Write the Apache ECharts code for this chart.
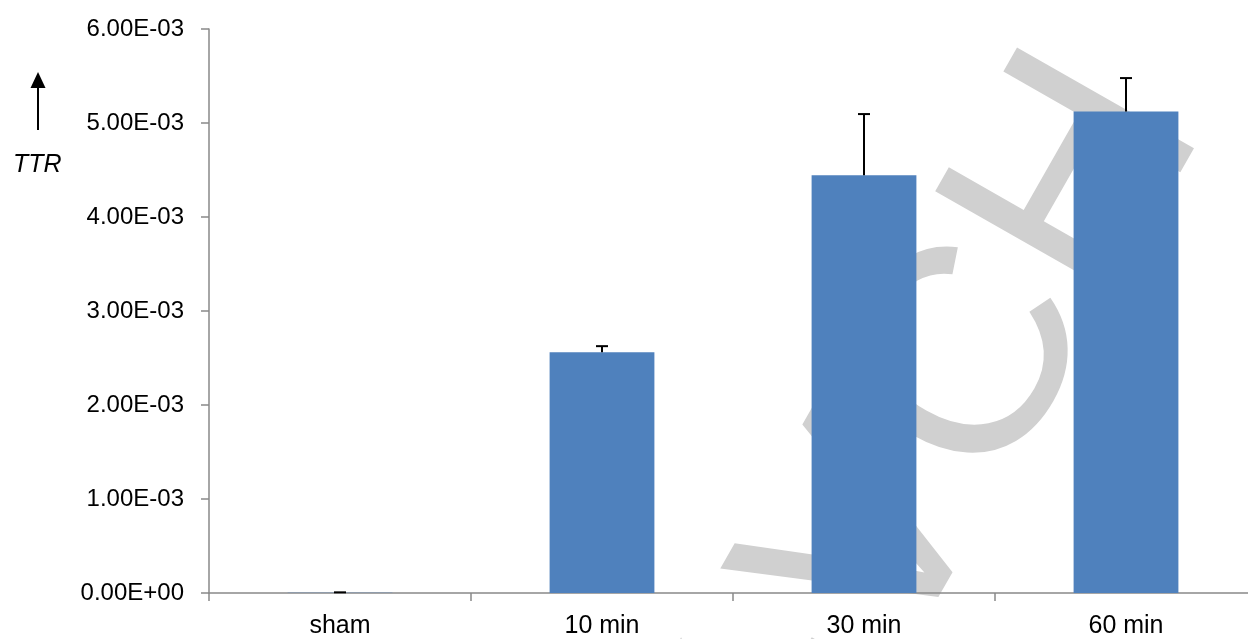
<!DOCTYPE html>
<html>
<head>
<meta charset="utf-8">
<script src="https://cdn.jsdelivr.net/npm/echarts@6/dist/echarts.min.js"></script>
<style>
  html, body { margin: 0; padding: 0; background: #ffffff; overflow: hidden; }
  /* the plot area runs a few pixels past the right edge of the window */
  #chart { width: 1262px; height: 639px; }
</style>
</head>
<body>
<div id="chart"></div>
<script>
// Sampling times after the start of the experiment
const categories = ['sham', '10 min', '30 min', '60 min'];
// Mean TTR per group
const ttrMean = [0.000002, 0.002562, 0.004445, 0.005122];
// Upper error (standard deviation) per group
const ttrError = [0.000005, 0.000064, 0.000650, 0.000356];
// Value-axis ticks
const yMin = 0;
const yMax = 0.006;
const yStep = 0.001;

const FONT = '"Liberation Sans", Arial, sans-serif';
const AXIS_GRAY = '#898989';

function sciLabel(v) {
  // Excel-style scientific notation, e.g. 6.00E-03
  if (v === 0) return '0.00E+00';
  const exp = Math.floor(Math.log10(Math.abs(v)) + 1e-9);
  const mant = v / Math.pow(10, exp);
  const sign = exp < 0 ? '-' : '+';
  const e = String(Math.abs(exp)).padStart(2, '0');
  return mant.toFixed(2) + 'E' + sign + e;
}

const errorData = categories.map((c, i) => [i, ttrMean[i], ttrMean[i] + ttrError[i]]);

const chart = echarts.init(document.getElementById('chart'), null, { renderer: 'canvas' });

chart.setOption({
  backgroundColor: '#ffffff',
  animation: false,
  grid: { left: 209, top: 29, width: 1048, height: 564, containLabel: false },
  xAxis: {
    type: 'category',
    data: categories,
    axisLine: { show: true, lineStyle: { color: AXIS_GRAY, width: 1.5 } },
    axisTick: { show: true, alignWithLabel: false, length: 8, lineStyle: { color: AXIS_GRAY, width: 1.5 } },
    axisLabel: { color: '#000000', fontSize: 25, fontFamily: FONT, margin: 21 },
    splitLine: { show: false }
  },
  yAxis: {
    type: 'value',
    min: yMin,
    max: yMax,
    interval: yStep,
    axisLine: { show: true, lineStyle: { color: AXIS_GRAY, width: 1.5 } },
    axisTick: { show: true, length: 8, lineStyle: { color: AXIS_GRAY, width: 1.5 } },
    axisLabel: { color: '#000000', fontSize: 24, fontFamily: FONT, margin: 25, formatter: sciLabel },
    splitLine: { show: false }
  },
  graphic: [
    {
      // publisher watermark behind the bars
      type: 'text',
      z: 0,
      x: 1135,
      y: 87,
      rotation: 1.053,
      silent: true,
      style: {
        text: 'WILEY-VCH',
        fontSize: 296,
        fontFamily: FONT,
        fill: '#d0d0d0',
        align: 'right',
        verticalAlign: 'middle'
      }
    },
    {
      // upward arrow next to the axis name
      type: 'line',
      z: 10,
      shape: { x1: 38, y1: 130, x2: 38, y2: 86 },
      style: { stroke: '#000000', lineWidth: 2 }
    },
    {
      type: 'polygon',
      z: 10,
      shape: { points: [[38, 72], [30.5, 88], [45.5, 88]] },
      style: { fill: '#000000' }
    },
    {
      type: 'text',
      z: 10,
      x: 13,
      y: 165,
      style: {
        text: 'TTR',
        fontSize: 25,
        fontStyle: 'italic',
        fontFamily: FONT,
        fill: '#000000',
        align: 'left',
        verticalAlign: 'middle'
      }
    }
  ],
  series: [
    {
      name: 'TTR',
      type: 'bar',
      data: ttrMean,
      barWidth: '40%',
      itemStyle: { color: '#4f81bd' },
      z: 2
    },
    {
      name: 'error',
      type: 'custom',
      data: errorData,
      z: 3,
      renderItem: function (params, api) {
        const x = api.value(0);
        const top = api.coord([x, api.value(2)]);
        const base = api.coord([x, api.value(1)]);
        const half = 6;
        return {
          type: 'group',
          children: [
            {
              type: 'line',
              shape: { x1: top[0], y1: base[1], x2: top[0], y2: top[1] },
              style: { stroke: '#000000', lineWidth: 2 }
            },
            {
              type: 'line',
              shape: { x1: top[0] - half, y1: top[1], x2: top[0] + half, y2: top[1] },
              style: { stroke: '#000000', lineWidth: 2 }
            }
          ]
        };
      }
    }
  ]
});
</script>
</body>
</html>
